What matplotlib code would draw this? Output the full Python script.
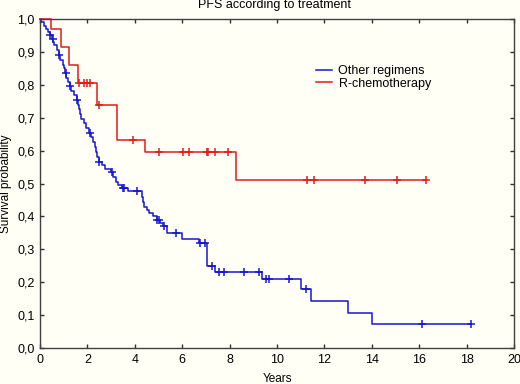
import matplotlib
matplotlib.use("Agg")
import matplotlib.pyplot as plt
import numpy as np

# Kaplan-Meier step data (time in years, survival after step)
other_t = [0, 0.05, 0.15, 0.25, 0.35, 0.42, 0.5, 0.55, 0.6, 0.7, 0.8, 0.85, 0.95, 1.0,
           1.05, 1.1, 1.2, 1.25, 1.3, 1.45, 1.55, 1.62, 1.66, 1.7, 1.75, 1.85, 1.95,
           2.05, 2.15, 2.25, 2.3, 2.35, 2.42, 2.5, 2.6, 2.75, 3.0, 3.1, 3.2, 3.3, 3.45,
           3.7, 4.3, 4.35, 4.4, 4.5, 4.6, 4.75, 4.95, 5.05, 5.2, 5.35, 6.0, 6.72, 7.03,
           7.4, 9.35, 11.02, 11.42, 12.98, 13.99, 18.2]
other_s = [1.0, 0.99, 0.98, 0.97, 0.96, 0.95, 0.94, 0.93, 0.92, 0.905, 0.89, 0.875,
           0.86, 0.85, 0.835, 0.82, 0.81, 0.795, 0.78, 0.77, 0.755, 0.74, 0.725, 0.71,
           0.695, 0.685, 0.67, 0.655, 0.64, 0.625, 0.61, 0.595, 0.58, 0.565, 0.555,
           0.545, 0.535, 0.52, 0.505, 0.495, 0.487, 0.477, 0.46, 0.445, 0.43, 0.42,
           0.41, 0.40, 0.39, 0.38, 0.37, 0.35, 0.33, 0.32, 0.25, 0.23, 0.21, 0.18,
           0.143, 0.107, 0.072, 0.072]
other_cens = [0.42, 0.53, 0.81, 1.08, 1.27, 1.55, 2.11, 2.5, 3.02, 3.5, 3.56, 4.08,
              4.95, 5.0, 5.25, 5.74, 6.75, 6.96, 7.24, 7.57, 7.76, 8.6, 9.25, 9.54,
              9.68, 10.49, 11.22, 16.1, 18.2]

rchemo_t = [0, 0.45, 0.89, 1.22, 1.59, 2.42, 3.26, 4.43, 8.26, 16.27]
rchemo_s = [1.0, 0.97, 0.915, 0.86, 0.805, 0.74, 0.633, 0.597, 0.512, 0.512]
rchemo_cens = [1.65, 1.85, 2.0, 2.1, 2.5, 3.94, 5.0, 6.02, 6.29, 7.03, 7.08, 7.38,
               7.92, 11.25, 11.57, 13.71, 15.05, 16.27]

x_ticks = [0, 2, 4, 6, 8, 10, 12, 14, 16, 18, 20]
y_ticks = [0.0, 0.1, 0.2, 0.3, 0.4, 0.5, 0.6, 0.7, 0.8, 0.9, 1.0]
y_labels = ["0,0", "0,1", "0,2", "0,3", "0,4", "0,5", "0,6", "0,7", "0,8", "0,9", "1,0"]

blue = "#1616d4"
red = "#e21b1b"
bg = "#fffff6"

plt.rcParams["font.family"] = ["Liberation Sans", "DejaVu Sans"]

fig = plt.figure(figsize=(5.2, 3.84), dpi=100, facecolor=bg)
ax = fig.add_axes([40 / 520, 1 - 348 / 384, 474 / 520, 329 / 384], facecolor=bg)


def surv_at(ts, ss, t):
    i = np.searchsorted(ts, t, side="right") - 1
    return ss[i]


for ts, ss, cens, col, lab in [(other_t, other_s, other_cens, blue, "Other regimens"),
                               (rchemo_t, rchemo_s, rchemo_cens, red, "R-chemotherapy")]:
    ax.step(ts, ss, where="post", color=col, lw=1.1, label=lab, clip_on=False)
    cy = [surv_at(ts, ss, c) for c in cens]
    ax.plot(cens, cy, ls="none", marker="+", ms=6, mew=1.1, color=col, clip_on=False)

ax.set_xlim(0, 20)
ax.set_ylim(0, 1)
ax.set_xticks(x_ticks)
ax.set_yticks(y_ticks)
ax.set_yticklabels(y_labels)
ax.tick_params(direction="in", length=3, width=1, colors="#303030", labelsize=9,
               top=True, right=True, pad=4)
ax.tick_params(axis="both", labelcolor="black")
for sp in ax.spines.values():
    sp.set_color("#404040")
    sp.set_linewidth(1)

ax.set_xlabel("Years", fontsize=8.5, labelpad=5)
ax.set_ylabel("Survival probability", fontsize=8.5, labelpad=4)
fig.text(275 / 520, 1 - 5 / 384, "PFS according to treatment", fontsize=9,
         ha="center", va="center")

fig.legend(loc="upper left", bbox_to_anchor=(316 / 520, 1 - 65 / 384), frameon=False,
           fontsize=9, handlelength=1.3, handletextpad=0.5, labelspacing=0.05,
           borderaxespad=0, borderpad=0)

fig.savefig("out.png", dpi=100, facecolor=bg)
